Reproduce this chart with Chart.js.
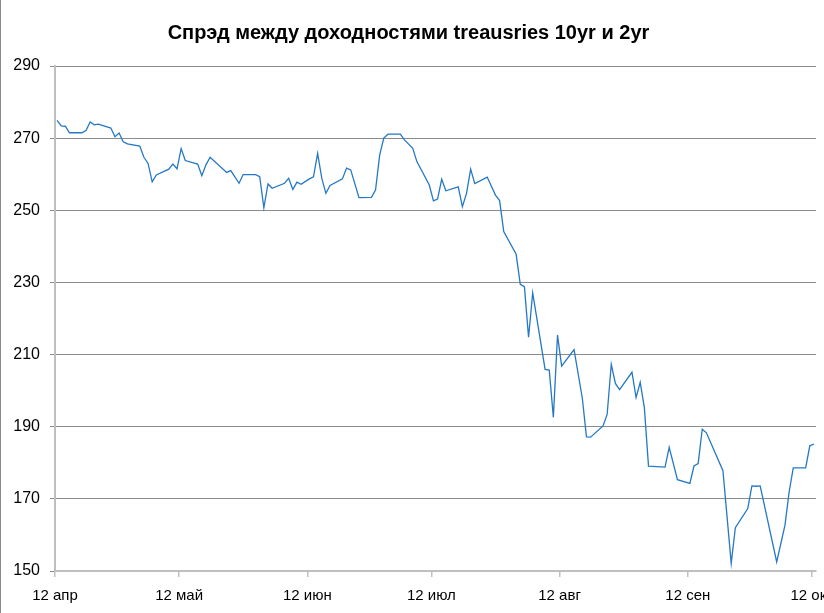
<!DOCTYPE html>
<html>
    <head>
        <meta charset="utf-8">
        <script src="https://cdn.jsdelivr.net/npm/chart.js@4.4.1/dist/chart.umd.min.js"></script>
        <style type="text/css">
            body{
                margin: 0px;
                background: white;
            }
            #wrap{
                width: 824px;
                height: 613px;
                position: relative;
                border-left: 1px solid #8c8c8c;
                box-sizing: border-box;
            }
        </style>
    </head>
    <body>
        <div id="wrap">
            <canvas id="myChart" width="823" height="613"></canvas>
        </div>
        <script>
            // days counted from 12 Apr, spread in basis points
            var days = [0, 1, 2, 3, 6, 7, 8, 9, 10, 13, 14, 15, 16, 17, 20, 21, 22, 23, 24, 27, 28, 29, 30, 31,
                34, 35, 36, 37, 41, 42, 44, 45, 48, 49, 50, 51, 52, 55, 56, 57, 58, 59, 61,
                62, 63, 64, 65, 66, 69, 70, 71, 73, 76, 77, 78, 79, 80, 83, 84, 86, 87, 90, 91,
                92, 93, 94, 97, 98, 99, 100, 101, 104, 106, 107, 108, 111, 112, 113, 114, 115, 118, 119, 120, 121,
                122, 125, 127, 128, 129, 132, 133, 134, 135, 136, 139, 140, 141, 142, 143, 147, 148, 150, 153,
                154, 155, 156, 157, 161, 163, 164, 167, 168, 169, 170, 174, 176, 177, 178, 181, 182, 183];
            var spread = [274.9, 273.4, 273.3, 271.5, 271.5, 272.1, 274.5, 273.7, 273.9, 272.8, 270.4, 271.4, 269.0, 268.4, 267.8, 264.7, 263.0, 257.9, 259.8, 261.4, 262.8, 261.5, 267.1, 263.8,
                262.8, 259.6, 262.6, 264.7, 260.5, 261.0, 257.5, 259.9, 259.9, 259.3, 250.7, 257.3, 256.1, 257.5, 258.9, 255.8, 257.8, 257.2, 258.7,
                259.3, 265.8, 258.9, 254.7, 256.9, 258.7, 261.7, 261.2, 253.5, 253.6, 255.6, 265.3, 270.0, 271.1, 271.1, 269.5, 267.2, 263.5, 257.0, 252.6,
                253.1, 258.6, 255.4, 256.5, 251.0, 254.7, 261.4, 257.4, 259.2, 254.2, 252.7, 244.1, 237.8, 229.5, 228.8, 214.8, 227.1, 205.9, 205.7, 192.6, 215.4,
                206.8, 211.4, 197.9, 187.2, 187.1, 190.2, 193.4, 207.3, 202.0, 200.3, 205.1, 198.1, 202.3, 195.3, 179.1, 178.8, 184.3, 175.3, 174.3,
                179.1, 179.8, 189.3, 188.3, 177.8, 152.1, 162.0, 167.3, 173.6, 173.5, 173.6, 152.5, 162.7, 171.9, 178.6, 178.6, 184.7, 185.2];

            var tickDays = [0, 30, 61, 91, 122, 153, 183];
            var tickLabels = ['12 апр', '12 май', '12 июн', '12 июл', '12 авг', '12 сен', '12 окт'];
            var yMin = 150, yMax = 290, yStep = 20;
            var lastDay = 184;

            var font = "'Liberation Sans Narrow', 'Liberation Sans', sans-serif";

            var points = [];
            for(var i = 0; i < days.length; i++){
                // excel puts each point in the middle of its day
                points.push({x: days[i] + 0.5, y: spread[i]});
            }

            var ctx = document.getElementById("myChart").getContext('2d');
            var chart = new Chart(ctx, {
                type: 'line',
                data: {
                    datasets: [{
                        data: points,
                        borderColor: '#2478c6',
                        borderWidth: 1.3,
                        pointRadius: 0,
                        tension: 0,
                        fill: false
                    }]
                },
                options: {
                    responsive: false,
                    animation: false,
                    layout: {
                        padding: {left: 0, right: 8, top: 0, bottom: 0}
                    },
                    plugins: {
                        legend: {display: false},
                        tooltip: {enabled: false},
                        title: {
                            display: true,
                            text: 'Спрэд между доходностями treausries 10yr и 2yr',
                            color: '#000',
                            font: {family: font, size: 20, weight: 'bold', lineHeight: 1.2},
                            padding: {top: 21, bottom: 21}
                        }
                    },
                    scales: {
                        x: {
                            type: 'linear',
                            min: 0,
                            max: lastDay,
                            afterBuildTicks: function(scale){
                                scale.ticks = tickDays.map(function(d){ return {value: d}; });
                            },
                            afterFit: function(scale){
                                scale.height = 42;
                                scale.paddingLeft = 0;
                                scale.paddingRight = 0;
                            },
                            ticks: {
                                autoSkip: false,
                                maxRotation: 0,
                                padding: 10,
                                color: '#000',
                                font: {family: font, size: 15},
                                callback: function(value){
                                    var k = tickDays.indexOf(value);
                                    return k >= 0 ? tickLabels[k] : '';
                                }
                            },
                            grid: {
                                drawOnChartArea: false,
                                drawTicks: true,
                                tickLength: 6,
                                color: '#bfbfbf',
                                lineWidth: 1.5
                            },
                            border: {color: '#bfbfbf', width: 2}
                        },
                        y: {
                            min: yMin,
                            max: yMax,
                            afterFit: function(scale){
                                scale.width = 54;
                            },
                            ticks: {
                                stepSize: yStep,
                                padding: 10,
                                color: '#000',
                                font: {family: font, size: 16}
                            },
                            grid: {
                                color: '#8c8c8c',
                                lineWidth: 1,
                                tickLength: 5
                            },
                            border: {color: '#bfbfbf', width: 2}
                        }
                    }
                }
            });
        </script>
    </body>
</html>
